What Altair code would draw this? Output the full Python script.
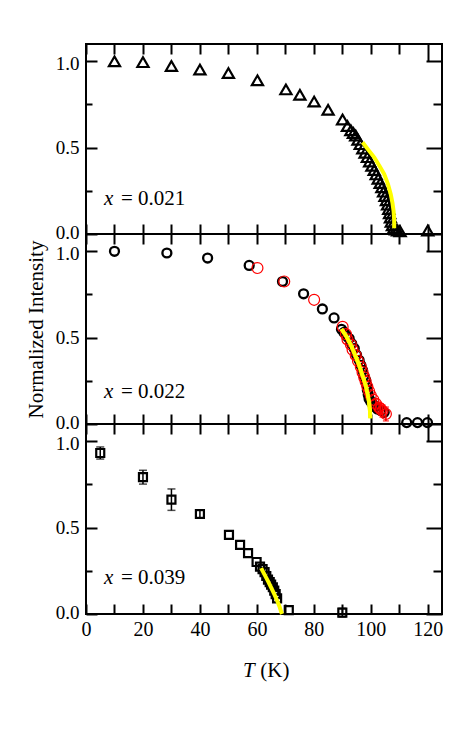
import altair as alt
import pandas as pd

# ---------------- data ----------------
# x = 0.021 : open triangles
T1 = [10, 20, 30, 40, 50, 60.2, 70.2, 75.1, 80.1, 85, 90.1, 91.8, 93.0, 93.9, 94.7, 95.5,
      96.3, 97.2, 98.0, 98.8, 99.6, 100.4, 101.2, 101.9, 102.6, 103.3, 103.9, 104.5,
      105.0, 105.5, 105.9, 106.3, 106.6, 106.9, 107.2, 107.6, 108.1, 108.7, 109.4, 110.3, 120]
I1 = [1.0, 0.995, 0.973, 0.952, 0.932, 0.89, 0.837, 0.806, 0.767, 0.719, 0.663, 0.625, 0.60,
      0.585, 0.57, 0.545, 0.52, 0.495, 0.47, 0.445, 0.42, 0.395, 0.37, 0.345, 0.32, 0.295,
      0.27, 0.245, 0.22, 0.195, 0.17, 0.145, 0.12, 0.095, 0.07, 0.05, 0.035, 0.025, 0.02, 0.015, 0.02]
FIT1_T = [97.1, 99.0, 101.2, 103.0, 104.7, 106.0, 107.0, 107.6, 108.0, 108.2, 108.2]
FIT1_I = [0.531, 0.49, 0.444, 0.395, 0.347, 0.29, 0.231, 0.18, 0.134, 0.08, 0.033]

# x = 0.022 : black open circles and red open circles
T2B = [10, 28.4, 42.7, 57.3, 69.0, 76.4, 83.0, 87.1, 89.7, 90.6, 91.5, 92.4, 93.3, 94.2,
       95.0, 95.9, 96.5, 97.1, 97.6, 98.2, 98.6, 98.8, 99.1, 99.4, 100.0, 100.6, 101.5,
       102.3, 103.5, 104.7, 112.6, 116.4, 119.9]
I2B = [1.0, 0.99, 0.961, 0.918, 0.825, 0.754, 0.666, 0.614, 0.548, 0.53, 0.51, 0.495, 0.465,
       0.437, 0.40, 0.369, 0.34, 0.311, 0.28, 0.253, 0.225, 0.195, 0.17, 0.146, 0.13, 0.117,
       0.10, 0.087, 0.078, 0.068, 0.008, 0.008, 0.008]
T2R = [60.2, 69.6, 80.1, 90.1, 91.3, 91.8, 93.0, 93.6, 94.7, 95.5, 96.5, 97.1, 97.7, 98.2,
       98.8, 99.4, 100.0, 100.9, 101.8, 102.9, 103.5, 104.1, 105.3]
I2R = [0.903, 0.825, 0.719, 0.563, 0.52, 0.49, 0.46, 0.43, 0.398, 0.365, 0.33, 0.30, 0.27,
       0.245, 0.215, 0.19, 0.165, 0.14, 0.117, 0.095, 0.087, 0.075, 0.058]
E2R = [0, 0, 0, 0, 0, 0, 0, 0, 0, 0, 0, 0, 0, 0, 0, 0, 0, 0, 0.025, 0.03, 0.03, 0.035, 0.04]
FIT2_T = [89.7, 91.5, 93.0, 94.5, 95.9, 97.1, 98.2, 98.9, 99.4, 99.7, 99.8]
FIT2_I = [0.55, 0.505, 0.457, 0.40, 0.34, 0.28, 0.224, 0.17, 0.126, 0.08, 0.033]

# x = 0.039 : open squares
T3 = [5, 20, 30, 40, 50.2, 54.1, 56.9, 59.9, 61.1, 62.0, 62.7, 63.3, 63.9, 64.5, 65.0,
      65.6, 66.1, 66.6, 67.1, 71.2, 90.0]
I3 = [0.932, 0.792, 0.662, 0.579, 0.458, 0.40, 0.352, 0.301, 0.274, 0.26, 0.242, 0.22,
      0.199, 0.185, 0.17, 0.155, 0.135, 0.115, 0.09, 0.022, 0.008]
E3 = [0.035, 0.04, 0.062, 0.02, 0, 0, 0, 0, 0, 0, 0, 0, 0, 0, 0, 0, 0, 0, 0, 0, 0.025]
FIT3_T = [61.5, 62.7, 63.9, 65.1, 66.2, 67.1, 67.9, 68.4, 68.8]
FIT3_I = [0.266, 0.228, 0.19, 0.15, 0.112, 0.078, 0.045, 0.02, 0.0]

LABELS = ["0.021", "0.022", "0.039"]
LABEL_T = [6.3, 12.3]          # start of italic "x", start of "= value"
LABEL_I = [0.2, 0.187, 0.208]
XTITLE_T = [59.2, 61.2]        # "T" (right aligned), "(K)" (left aligned)

# ---------------- style ----------------
FONT = "Liberation Serif"
FS = 20
W, H = 356, 190
XTICKS = list(range(0, 130, 10))
YTICKS = [0, 0.25, 0.5, 0.75, 1.0]
MINOR = "datum.value == 0.25 || datum.value == 0.75"
xscale = alt.Scale(domain=[0, 125], nice=False, zero=False)
yscale = alt.Scale(domain=[0, 1.1], nice=False)
YELLOW = "#ffff00"
RED = "#ff0000"


def ax_bottom(labels):
    return alt.Axis(orient="bottom", values=XTICKS, tickSize=10, offset=-10, tickWidth=2,
                    tickColor="black", domain=False, grid=False, labels=labels,
                    labelExpr="datum.value % 20 == 0 ? datum.label : ''", labelFlush=False,
                    labelFont=FONT, labelFontSize=FS, labelColor="black", labelPadding=5,
                    title=None)


def ax_top():
    # the 120 K tick runs down to the 1.0 level, closing a small box with the right tick
    return alt.Axis(orient="top", values=XTICKS, tickSize=17, offset=-17, tickWidth=2,
                    tickColor="black",
                    tickDash={"condition": {"test": "datum.value != 120", "value": [0, 7, 10, 0]},
                              "value": [30, 0]},
                    domain=False, grid=False, labels=False, title=None)


def ax_left(title):
    kw = dict(orient="left", values=YTICKS, tickSize=11, offset=-11, tickWidth=2,
              tickColor="black",
              tickDash={"condition": {"test": MINOR, "value": [0, 5, 6, 0]}, "value": [20, 0]},
              domain=False, grid=False,
              labelExpr=MINOR + " ? '' : format(datum.value, '.1f')",
              labelOffset={"condition": [{"test": "datum.value == 0", "value": -2},
                                         {"test": "datum.value == 1", "value": 2}],
                           "value": 0},
              labelFont=FONT, labelFontSize=19, labelColor="black", labelPadding=7)
    if title:
        kw.update(title=title, titleFont=FONT, titleFontSize=21, titleFontWeight="normal",
                  titleColor="black", titlePadding=9)
    else:
        kw.update(title=None)
    return alt.Axis(**kw)


def ax_right():
    return alt.Axis(orient="right", values=YTICKS, tickSize=16, offset=-16, tickWidth=2,
                    tickColor="black",
                    tickDash={"condition": {"test": MINOR, "value": [0, 7, 9, 0]}, "value": [30, 0]},
                    domain=False, grid=False, labels=False, title=None)


def X(field="T", axis=None):
    return alt.X(f"{field}:Q", scale=xscale, axis=axis)


def Y(field="I", axis=None):
    return alt.Y(f"{field}:Q", scale=yscale, axis=axis)


def label_layers(i):
    d1 = pd.DataFrame({"T": [LABEL_T[0]], "I": [LABEL_I[i]], "s": ["x"]})
    d2 = pd.DataFrame({"T": [LABEL_T[1]], "I": [LABEL_I[i]], "s": ["= " + LABELS[i]]})
    a = alt.Chart(d1).mark_text(align="left", baseline="middle", font=FONT, fontSize=21,
                                fontStyle="italic", color="black").encode(x=X(), y=Y(), text="s:N")
    b = alt.Chart(d2).mark_text(align="left", baseline="middle", font=FONT, fontSize=21,
                                color="black").encode(x=X(), y=Y(), text="s:N")
    return [a, b]


def fit_layer(ts, vs, with_axes=True):
    d = pd.DataFrame({"T": ts, "I": vs, "k": list(range(len(ts)))})
    if with_axes:
        enc = dict(x=X(axis=ax_top()), y=Y(axis=ax_right()))
    else:
        enc = dict(x=X(), y=Y())
    return alt.Chart(d).mark_line(color=YELLOW, strokeWidth=4).encode(order="k:Q", **enc)


def errbar_layers(ts, vs, es, color, cap):
    d = pd.DataFrame({"T": ts, "I": vs, "e": es})
    d = d[d["e"] > 0].copy()
    d["lo"] = d["I"] - d["e"]
    d["hi"] = d["I"] + d["e"]
    rule = alt.Chart(d).mark_rule(color=color, strokeWidth=1.5).encode(
        x=X(), y=Y("lo"), y2="hi:Q")
    t1 = alt.Chart(d).mark_tick(color=color, orient="horizontal", size=cap, thickness=1.5).encode(
        x=X(), y=Y("lo"))
    t2 = alt.Chart(d).mark_tick(color=color, orient="horizontal", size=cap, thickness=1.5).encode(
        x=X(), y=Y("hi"))
    return [rule, t1, t2]


# ---------------- panel 1 ----------------
df1 = pd.DataFrame({"T": T1, "I": I1})
pts1 = alt.Chart(df1).mark_point(shape="triangle-up", size=125, filled=False, color="black",
                                 strokeWidth=2.2, opacity=1).encode(
    x=X(axis=ax_bottom(False)), y=Y(axis=ax_left(None)))
p1 = alt.layer(pts1, fit_layer(FIT1_T, FIT1_I), *label_layers(0)).resolve_axis(
    x="independent", y="independent").properties(width=W, height=H)

# ---------------- panel 2 ----------------
df2b = pd.DataFrame({"T": T2B, "I": I2B})
df2r = pd.DataFrame({"T": T2R, "I": I2R})
pts2b = alt.Chart(df2b).mark_point(shape="circle", size=80, filled=False, color="black",
                                   strokeWidth=2.3, opacity=1).encode(
    x=X(axis=ax_bottom(False)), y=Y(axis=ax_left("Normalized Intensity")))
pts2r = alt.Chart(df2r).mark_point(shape="circle", size=120, filled=False, color=RED,
                                   strokeWidth=1.2, opacity=1).encode(x=X(), y=Y())
p2 = alt.layer(pts2b, fit_layer(FIT2_T, FIT2_I), pts2r,
               *errbar_layers(T2R, I2R, E2R, RED, 6),
               fit_layer(FIT2_T, FIT2_I, with_axes=False),
               *label_layers(1)).resolve_axis(
    x="independent", y="independent").properties(width=W, height=H)

# ---------------- panel 3 ----------------
df3 = pd.DataFrame({"T": T3, "I": I3})
pts3 = alt.Chart(df3).mark_point(shape="square", size=64, filled=False, color="black",
                                 strokeWidth=2.2, opacity=1).encode(
    x=X(axis=ax_bottom(True)), y=Y(axis=ax_left(None)))
xt1 = alt.Chart(pd.DataFrame({"T": [XTITLE_T[0]], "s": ["T"]})).mark_text(
    align="right", baseline="middle", font=FONT, fontSize=21, fontStyle="italic",
    color="black").encode(x=X(), y=alt.value(H + 57), text="s:N")
xt2 = alt.Chart(pd.DataFrame({"T": [XTITLE_T[1]], "s": ["(K)"]})).mark_text(
    align="left", baseline="middle", font=FONT, fontSize=21, color="black").encode(
    x=X(), y=alt.value(H + 57), text="s:N")
p3 = alt.layer(pts3, fit_layer(FIT3_T, FIT3_I), *errbar_layers(T3, I3, E3, "black", 8),
               *label_layers(2), xt1, xt2).resolve_axis(
    x="independent", y="independent").properties(width=W, height=H)

chart = alt.vconcat(p1, p2, p3, spacing=0, bounds="flush").properties(
    padding={"left": 16, "top": 34, "right": 10, "bottom": 10},
    background="white",
).configure_view(stroke="black", strokeWidth=2)

chart.save("out.html", embed_options={"renderer": "svg", "actions": False})
